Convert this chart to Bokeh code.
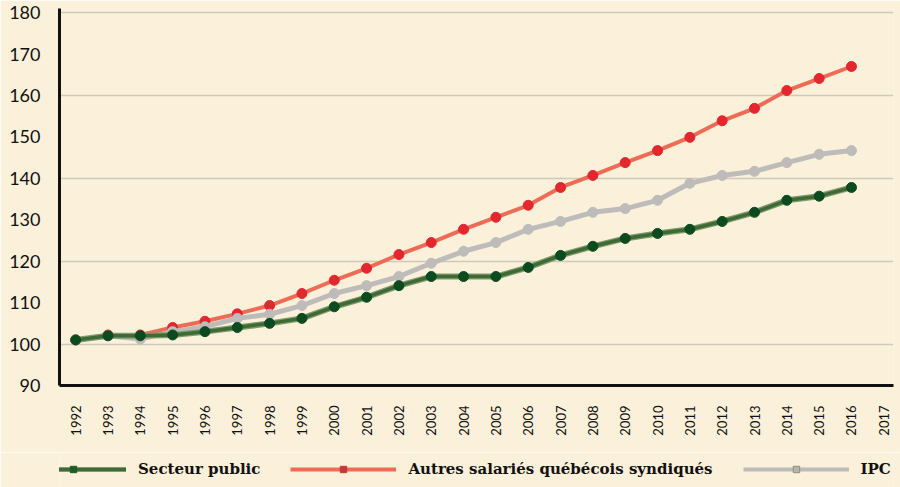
import math
from bokeh.plotting import figure
from bokeh.layouts import column
from bokeh.models import (ColumnDataSource, FixedTicker, Range1d, Legend, LegendItem)
from bokeh.embed import file_html
from bokeh.resources import INLINE

years = list(range(1992, 2017))
tick_years = list(range(1992, 2018))
y_ticks = [90, 100, 110, 120, 130, 140, 150, 160, 170, 180]
grid_ticks = [100, 120, 140, 160, 180]

secteur_public = [101.0, 102.0, 102.0, 102.2, 103.0, 104.0, 105.0, 106.2, 109.0, 111.3,
                  114.1, 116.3, 116.3, 116.3, 118.5, 121.4, 123.6, 125.5, 126.7, 127.7,
                  129.6, 131.8, 134.7, 135.7, 137.8]
autres = [101.0, 102.2, 102.2, 104.0, 105.5, 107.3, 109.3, 112.2, 115.4, 118.3,
          121.6, 124.5, 127.7, 130.6, 133.5, 137.8, 140.7, 143.8, 146.7, 149.9,
          153.9, 156.9, 161.2, 164.1, 167.0]
ipc = [101.0, 102.0, 101.2, 103.0, 104.2, 106.2, 107.2, 109.3, 112.2, 114.1,
       116.3, 119.5, 122.4, 124.5, 127.7, 129.6, 131.8, 132.7, 134.7, 138.8,
       140.7, 141.7, 143.8, 145.8, 146.7]

labels = ["Secteur public", "Autres salariés québécois syndiqués", "IPC"]

BG = "#FBF0D9"
GREEN_OUT, GREEN_IN, GREEN_DOT = "#7F9B6C", "#3D6A36", "#0C4B20"
RED_LINE, RED_DOT = "#EE6B55", "#E3272E"
GREY = "#BDBCBA"

src = ColumnDataSource(dict(x=years, sp=secteur_public, au=autres, ipc=ipc))

p = figure(width=900, height=452, output_backend="svg", toolbar_location=None,
           x_range=Range1d(1991.5, 2017.3), y_range=Range1d(90, 181),
           min_border_left=59, min_border_right=7, min_border_top=8,
           min_border_bottom=67,
           background_fill_color=BG, border_fill_color=BG, outline_line_color=None)

# red series
p.line("x", "au", source=src, line_color=RED_LINE, line_width=4)
p.scatter("x", "au", source=src, size=10, color=RED_DOT)
# grey series
p.line("x", "ipc", source=src, line_color=GREY, line_width=5)
p.scatter("x", "ipc", source=src, size=10, color=GREY)
# green series
p.line("x", "sp", source=src, line_color=GREEN_OUT, line_width=6)
p.line("x", "sp", source=src, line_color=GREEN_IN, line_width=3.5)
p.scatter("x", "sp", source=src, size=10, color=GREEN_DOT)

# axes
p.xaxis.ticker = FixedTicker(ticks=tick_years)
p.xaxis.major_label_orientation = math.pi / 2
p.xaxis.major_label_text_font = "Lato"
p.xaxis.major_label_text_font_size = "13px"
p.xaxis.major_label_text_color = "#111111"
p.xaxis.major_label_standoff = 14
p.yaxis.ticker = FixedTicker(ticks=y_ticks)
p.yaxis.major_label_text_font = "Lato"
p.yaxis.major_label_text_font_size = "18px"
p.yaxis.major_label_text_color = "#111111"
p.yaxis.major_label_standoff = 13
for ax in (p.xaxis, p.yaxis):
    ax.axis_line_width = 3
    ax.axis_line_color = "#111111"
    ax.major_tick_line_color = None
    ax.minor_tick_line_color = None

p.xgrid.grid_line_color = None
p.ygrid.ticker = FixedTicker(ticks=grid_ticks)
p.ygrid.grid_line_color = "#CFC9BC"
p.ygrid.grid_line_width = 1.5

# legend strip (proxy renderers lie outside this strip's ranges)
lf = figure(width=900, height=35, output_backend="svg", toolbar_location=None,
            x_range=Range1d(0, 1), y_range=Range1d(0, 1),
            x_axis_location=None, y_axis_location=None,
            min_border=0, background_fill_color=BG, border_fill_color=BG,
            outline_line_color=None)
lf.grid.visible = False
lsrc = ColumnDataSource(dict(x=years, sp=secteur_public, au=autres, ipc=ipc))
lg_o = lf.line("x", "sp", source=lsrc, line_color=GREEN_OUT, line_width=5)
lg_i = lf.line("x", "sp", source=lsrc, line_color=GREEN_IN, line_width=3)
lg_s = lf.scatter("x", "sp", source=lsrc, marker="square", size=6, color="#1F5A2A")
lr_l = lf.line("x", "au", source=lsrc, line_color=RED_LINE, line_width=4)
lr_s = lf.scatter("x", "au", source=lsrc, marker="square", size=6, color="#C9363A")
li_l = lf.line("x", "ipc", source=lsrc, line_color=GREY, line_width=4)
li_s = lf.scatter("x", "ipc", source=lsrc, marker="square", size=6,
                  fill_color="#B8B6A8", line_color="#8E8E84")

legend = Legend(items=[
    LegendItem(label=labels[0], renderers=[lg_o, lg_i, lg_s]),
    LegendItem(label=labels[1], renderers=[lr_l, lr_s]),
    LegendItem(label=labels[2], renderers=[li_l, li_s]),
], orientation="horizontal", location=(-39, 9))
legend.glyph_width = 106
legend.glyph_height = 16
legend.label_standoff = 12
legend.spacing = 30
legend.padding = 0
legend.margin = 0
legend.border_line_color = None
legend.background_fill_alpha = 0
legend.label_text_font = "DejaVu Serif"
legend.label_text_font_style = "bold"
legend.label_text_font_size = "15px"
legend.label_text_color = "#111111"
lf.add_layout(legend, "center")

layout = column(p, lf, spacing=0)
open("out.html", "w").write(file_html(layout, INLINE))
